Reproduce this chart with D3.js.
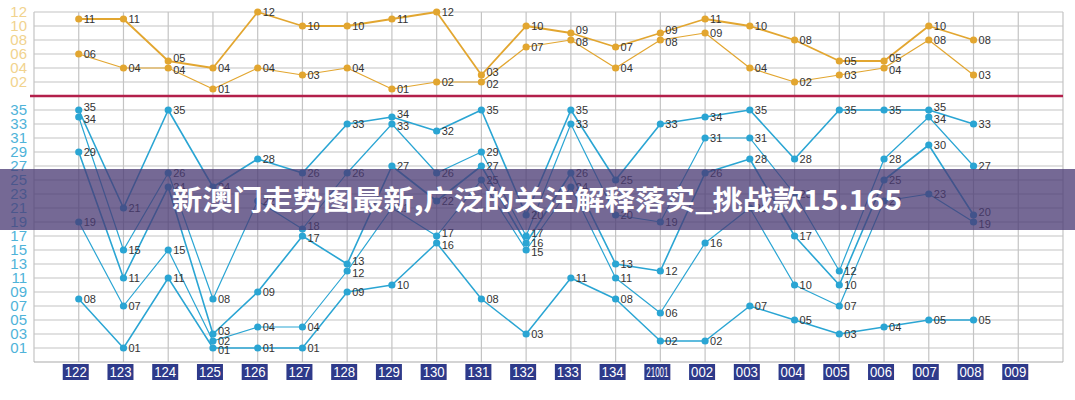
<!DOCTYPE html>
<html><head><meta charset="utf-8">
<script src="https://cdn.jsdelivr.net/npm/d3@7"></script>
<style>body{margin:0;background:#fff;} svg{display:block;}</style>
</head><body>
<svg id="c" width="1075" height="400"></svg>
<script>
// ---- data ----
const periods = ["122","123","124","125","126","127","128","129","130","131","132","133","134","21001","002","003","004","005","006","007","008","009"];
const goldUpper = [11,11,5,4,12,10,10,11,12,3,10,9,7,9,11,10,8,5,5,10,8];
const goldLower = [6,4,4,1,4,3,4,1,2,2,7,8,4,8,9,4,2,3,4,8,3];
const blue1 = [35,21,35,24,28,26,33,34,32,35,20,35,25,33,34,35,28,35,35,35,33];
const blue2 = [34,15,26,8,22,18,26,33,26,29,17,33,20,19,31,31,23,12,28,34,27];
const blue3 = [29,11,24,3,9,17,13,27,22,27,16,26,13,12,26,28,17,10,25,30,20];
const blue4 = [19,7,15,2,4,4,12,21,17,25,15,24,11,6,16,21,10,7,22,23,19];
const blue5 = [8,1,11,1,1,1,9,10,16,8,3,11,8,2,2,7,5,3,4,5,5];
const goldTicks = [2,4,6,8,10,12];
const blueTicks = [1,3,5,7,9,11,13,15,17,19,21,23,25,27,29,31,33,35];
const title = "新澳门走势图最新,广泛的关注解释落实_挑战款15.165";

// ---- chart ----
const svg = d3.select("#c");
const L = 34, R = 1063;
const x = d3.scalePoint().domain(periods).range([L, R]).padding(1);
const yTop = d3.scaleLinear().domain([0, 12]).range([96, 12]);
const yBot = d3.scaleLinear().domain([-1, 37]).range([362, 96]);
const pad = d => (d < 10 ? "0" : "") + d;

const grid = svg.append("g").attr("stroke", "#c4c4c4").attr("stroke-width", 1.2);
goldTicks.forEach(v => grid.append("line").attr("x1", L).attr("x2", R).attr("y1", yTop(v)).attr("y2", yTop(v)));
blueTicks.forEach(v => grid.append("line").attr("x1", L).attr("x2", R).attr("y1", yBot(v)).attr("y2", yBot(v)));
periods.forEach(p => grid.append("line").attr("x1", x(p)).attr("x2", x(p)).attr("y1", yTop(12)).attr("y2", yBot(-1)));
grid.append("line").attr("x1", L).attr("x2", L).attr("y1", yTop(12)).attr("y2", yBot(-1));
grid.append("line").attr("x1", R).attr("x2", R).attr("y1", yTop(12)).attr("y2", yBot(-1));
grid.append("line").attr("x1", L).attr("x2", R).attr("y1", yBot(-1)).attr("y2", yBot(-1)).attr("stroke", "#aaa");

// red separator
svg.append("line").attr("x1", 30).attr("x2", R).attr("y1", yTop(0)).attr("y2", yTop(0))
  .attr("stroke", "#b3204b").attr("stroke-width", 2.6);

// y axes
const gTop = svg.append("g").attr("transform", "translate(27,0)")
  .call(d3.axisLeft(yTop).tickValues(goldTicks).tickFormat(pad).tickSize(0).tickPadding(0));
gTop.select(".domain").remove();
gTop.selectAll("text").attr("fill", "#f1d38e").attr("font-size", 15).attr("font-family", "Liberation Sans, Arial, sans-serif");
const gBot = svg.append("g").attr("transform", "translate(27,0)")
  .call(d3.axisLeft(yBot).tickValues(blueTicks).tickFormat(pad).tickSize(0).tickPadding(0));
gBot.select(".domain").remove();
gBot.selectAll("text").attr("fill", "#4fb3d9").attr("font-size", 15).attr("font-family", "Liberation Sans, Arial, sans-serif");

function drawSeries(vals, yS, color, width) {
  const line = d3.line().x((d, i) => x(periods[i])).y(d => yS(d));
  svg.append("path").datum(vals).attr("d", line).attr("fill", "none")
    .attr("stroke", color).attr("stroke-width", width).attr("stroke-linejoin", "round");
}
// label nudge: when neighbours at same column differ by 1, push labels apart
function nudges(seriesList) {
  return seriesList.map(s => s.map((v, i) => {
    const col = seriesList.map(t => t[i]);
    let n = 0;
    if (col.includes(v - 1)) n -= 2.5;
    if (col.includes(v + 1)) n += 2.5;
    return n;
  }));
}
function drawPoints(vals, yS, color, nd) {
  const g = svg.append("g");
  vals.forEach((v, i) => {
    g.append("circle").attr("cx", x(periods[i])).attr("cy", yS(v)).attr("r", 3.6).attr("fill", color);
    g.append("text").attr("x", x(periods[i]) + 5).attr("y", yS(v) + nd[i]).attr("dy", "0.35em")
      .attr("font-size", 11).attr("fill", "#333").attr("font-family", "Liberation Sans, Arial, sans-serif")
      .text(pad(v));
  });
}
const gold = "#e2a630";
drawSeries(goldUpper, yTop, gold, 1.8);
drawSeries(goldLower, yTop, gold, 1.2);
const gN = nudges([goldUpper, goldLower]);
drawPoints(goldUpper, yTop, gold, gN[0]);
drawPoints(goldLower, yTop, gold, gN[1]);

const blue = "#2aa5d3";
const blues = [blue1, blue2, blue3, blue4, blue5];
const widths = [1.6, 1.2, 1.6, 1.2, 1.5];
blues.forEach((s, k) => drawSeries(s, yBot, blue, widths[k]));
const bN = nudges(blues);
blues.forEach((s, k) => drawPoints(s, yBot, blue, bN[k]));

// x labels
const gx = svg.append("g");
periods.forEach(p => {
  gx.append("rect").attr("x", x(p) - 16).attr("y", 364).attr("width", 26).attr("height", 16).attr("fill", "#2e3a8a");
  gx.append("text").attr("x", x(p) - 3).attr("y", 372).attr("dy", "0.36em")
    .attr("text-anchor", "middle").attr("fill", "#fff").attr("font-size", 14)
    .attr("font-family", "Liberation Sans Narrow, Liberation Sans, Arial, sans-serif").text(p)
    .attr("textLength", 22).attr("lengthAdjust", "spacingAndGlyphs");
});

// overlay banner
svg.append("rect").attr("x", 0).attr("y", 169).attr("width", 1075).attr("height", 61)
  .attr("fill", "#4a3a74").attr("opacity", 0.76);
svg.append("text").attr("x", 537).attr("y", 200).attr("dy", "0.36em").attr("text-anchor", "middle")
  .attr("fill", "#fff").attr("font-size", 27).attr("font-weight", "bold")
  .attr("font-family", "Noto Sans CJK SC, sans-serif")
  .attr("textLength", 730).attr("lengthAdjust", "spacingAndGlyphs").text(title);
</script>
</body></html>
